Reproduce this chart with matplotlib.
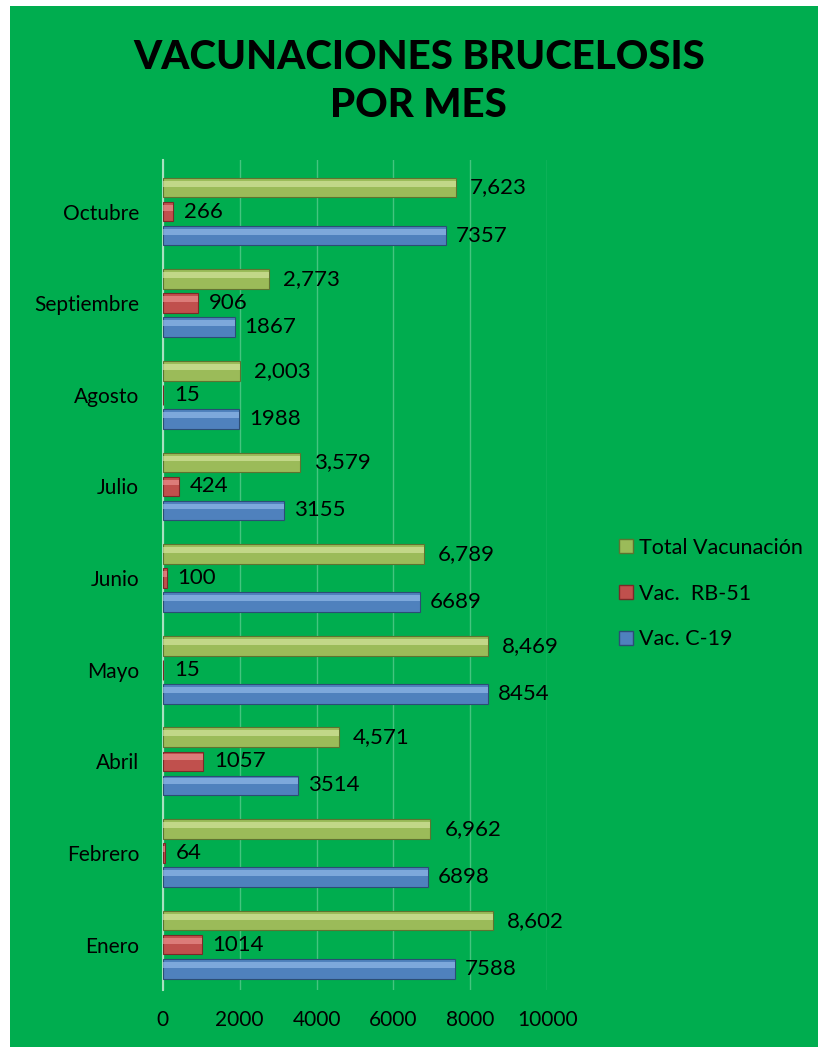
import numpy as np
import matplotlib.pyplot as plt
from matplotlib.patches import Rectangle, Patch

meses = ["Enero", "Febrero", "Abril", "Mayo", "Junio", "Julio", "Agosto", "Septiembre", "Octubre"]
vac_c19 = [7588, 6898, 3514, 8454, 6689, 3155, 1988, 1867, 7357]
vac_rb51 = [1014, 64, 1057, 15, 100, 424, 15, 906, 266]
total = [8602, 6962, 4571, 8469, 6789, 3579, 2003, 2773, 7623]

verde_fondo = "#00AD4F"
c_total = "#9BBB59"
c_rb51 = "#C0504D"
c_c19 = "#4F81BD"

plt.rcParams['font.family'] = ['Lato', 'DejaVu Sans']

fig = plt.figure(figsize=(8.18, 10.47), dpi=100)
fig.patches.append(Rectangle((10/818, 0), 1, 1 - 6/1047, transform=fig.transFigure,
                             facecolor=verde_fondo, edgecolor="none", zorder=-10))

ax = fig.add_axes([0.199, 0.054, 0.470, 0.793])
ax.set_facecolor("none")

y = np.arange(len(meses))
paso = 0.262
alto = 0.215

def barras(vals, off, color, claro, oscuro, fmt, sep):
    ax.barh(y + off, vals, height=alto, color=color, edgecolor=oscuro, linewidth=0.8, zorder=3)
    # brillo superior para imitar el biselado
    ax.barh(y + off + alto * 0.2, vals, height=alto * 0.3, color=claro, edgecolor="none",
            alpha=0.6, zorder=4)
    for yi, v in zip(y + off, vals):
        ax.text(v + sep, yi, fmt(v), va="center", ha="left", fontsize=16, color="black", zorder=5)

barras(vac_c19, -paso, c_c19, "#9CC3F0", "#2C4D75", lambda v: str(v), 260)
barras(vac_rb51, 0, c_rb51, "#F09A98", "#7A2A28", lambda v: str(v), 280)
barras(total, paso, c_total, "#DDEBA8", "#5E7330", lambda v: "{:,}".format(v), 360)

ax.set_xlim(0, 10000)
ax.set_ylim(-0.5, 8.56)
ax.set_xticks(range(0, 10001, 2000))
ax.set_yticks(y)
ax.set_yticklabels(meses)
ax.tick_params(axis="both", length=0, labelsize=15, colors="black")
ax.tick_params(axis="y", pad=17)
ax.tick_params(axis="x", pad=14)
ax.grid(axis="x", color="#45C47F", linewidth=1.0, zorder=0)
for s in ["top", "right", "bottom"]:
    ax.spines[s].set_visible(False)
ax.spines["left"].set_color("#A8E0C0")
ax.spines["left"].set_linewidth(1.5)

fig.text(0.512, 0.945, "VACUNACIONES BRUCELOSIS", ha="center", va="center",
         fontsize=29, fontweight="black")
fig.text(0.512, 0.899, "POR MES", ha="center", va="center", fontsize=29, fontweight="black")

# leyenda
handles = [Patch(facecolor=c_total, edgecolor="#5E7330", label="Total Vacunación"),
           Patch(facecolor=c_rb51, edgecolor="#7A2A28", label="Vac.  RB-51"),
           Patch(facecolor=c_c19, edgecolor="#2C4D75", label="Vac. C-19")]
leg = fig.legend(handles=handles, loc="center left", bbox_to_anchor=(0.733, 0.433), frameon=False,
                 fontsize=15.5, handlelength=0.65, handleheight=0.65, handletextpad=0.3,
                 labelspacing=1.2)

fig.savefig("out.png", dpi=100)
